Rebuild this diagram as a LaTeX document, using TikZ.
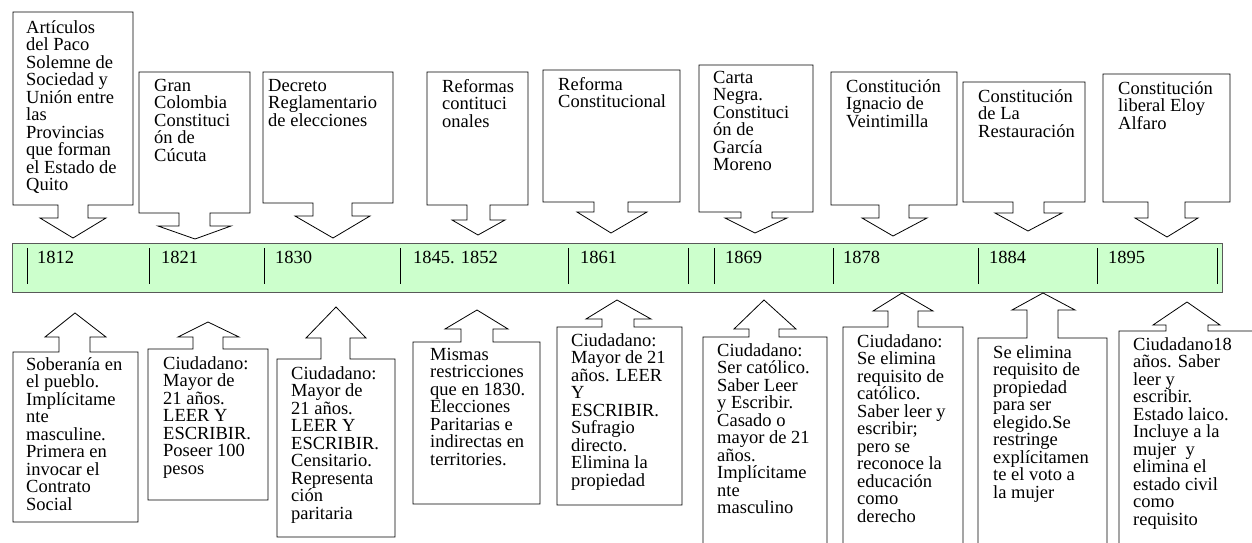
\documentclass[tikz,border=0pt]{standalone}
\usepackage{fontspec}
\setmainfont{Liberation Serif}
\usepackage{tikz}
\definecolor{barfill}{HTML}{CCFFCC}
\tikzset{minimum size=0pt, font=\fontsize{18.5}{17.5}\selectfont}
\tikzstyle{frame} = [rectangle, inner sep=0pt, outer sep=0pt, anchor=north west]
\tikzstyle{outline} = [draw, line width=0.8pt, fill=white, line join=miter]
\tikzstyle{txt} = [inner sep=0pt, anchor=north west, align=left]
\tikzstyle{year} = [inner sep=0pt, anchor=base west]
\tikzstyle{bar} = [draw=black!65, line width=1.3pt, fill=barfill, rectangle, inner sep=0pt, anchor=north west]
\tikzstyle{tick} = [line width=0.8pt]
\newcommand{\downcallout}[8]{%
	\draw [outline] (#1.south west) -- (#1.north west) -- (#1.north east) -- (#1.south east)
		-- (#1.south -| #3,0) -- (#3,#4) -- (#6,#4) -- (#7,#8) -- (#5,#4) -- (#2,#4)
		-- (#1.south -| #2,0) -- cycle;}
\newcommand{\upcallout}[8]{%
	\draw [outline] (#1.north west) -- (#1.north -| #2,0) -- (#2,#4) -- (#5,#4) -- (#7,#8)
		-- (#6,#4) -- (#3,#4) -- (#1.north -| #3,0) -- (#1.north east) -- (#1.south east)
		-- (#1.south west) -- cycle;}

\begin{document}
\begin{tikzpicture}[x=1pt, y=-1pt]
		\useasboundingbox (0,0) rectangle (1252,543);
		\clip (0,0) rectangle (1252,543);

		\node [bar, minimum width=1210, minimum height=49] (timeline) at (12,243) {};
		\draw [tick] (27,248) -- (27,284) (149,248) -- (149,284) (264,248) -- (264,284)
			(400,248) -- (400,284) (568,248) -- (568,284) (688,248) -- (688,284)
			(714,248) -- (714,284) (833,248) -- (833,284) (978,248) -- (978,284)
			(1097,248) -- (1097,284) (1217,248) -- (1217,284);
		\node [year] (y1812) at (37,263) {1812};
		\node [year] (y1821) at (161,263) {1821};
		\node [year] (y1830) at (275,263) {1830};
		\node [year] (y1845) at (413,263) {1845. 1852};
		\node [year] (y1861) at (580,263) {1861};
		\node [year] (y1869) at (725,263) {1869};
		\node [year] (y1878) at (843,263) {1878};
		\node [year] (y1884) at (989,263) {1884};
		\node [year] (y1895) at (1108,263) {1895};

		\node [frame, minimum width=120, minimum height=193] (ev1812) at (13,12) {};
		\downcallout{ev1812}{58}{88}{218}{40}{106}{73}{238}
		\node [txt] (evt1812) at (26,20) {Artículos\\del Paco\\Solemne de\\Sociedad y\\Unión entre\\las\\Provincias\\que forman\\el Estado de\\Quito};

		\node [frame, minimum width=111, minimum height=141] (ev1821) at (139,72) {};
		\downcallout{ev1821}{179}{210}{226}{158}{231}{195}{239}
		\node [txt] (evt1821) at (154,79) {Gran\\Colombia\\Constituci\\ón de\\Cúcuta};

		\node [frame, minimum width=130, minimum height=131] (ev1830) at (263,72) {};
		\downcallout{ev1830}{313}{352}{216}{295}{370}{333}{238}
		\node [txt] (evt1830) at (268,79) {Decreto\\Reglamentario\\de elecciones};

		\node [frame, minimum width=101, minimum height=133] (ev1845) at (427,72) {};
		\downcallout{ev1845}{467}{490}{220}{452}{505}{478}{235}
		\node [txt] (evt1845) at (442,79) {Reformas\\contituci\\onales};

		\node [frame, minimum width=137, minimum height=132] (ev1861) at (543,70) {};
		\downcallout{ev1861}{594}{628}{212}{577}{647}{611}{233}
		\node [txt] (evt1861) at (558,77) {Reforma\\Constitucional};

		\node [frame, minimum width=114, minimum height=147] (ev1869) at (699,65) {};
		\downcallout{ev1869}{741}{772}{218}{725}{787}{755}{233}
		\node [txt] (evt1869) at (713,71) {Carta\\Negra.\\Constituci\\ón de\\García\\Moreno};

		\node [frame, minimum width=126, minimum height=133] (ev1878) at (831,72) {};
		\downcallout{ev1878}{879}{909}{218}{862}{927}{893}{236}
		\node [txt] (evt1878) at (846,79) {Constitución\\Ignacio de\\Veintimilla};

		\node [frame, minimum width=122, minimum height=120] (ev1884) at (963,82) {};
		\downcallout{ev1884}{1013}{1044}{213}{995}{1062}{1028}{231}
		\node [txt] (evt1884) at (978,89) {Constitución\\de La\\Restauración};

		\node [frame, minimum width=127, minimum height=128] (ev1895) at (1103,74) {};
		\downcallout{ev1895}{1148}{1185}{218}{1135}{1198}{1167}{237}
		\node [txt] (evt1895) at (1118,81) {Constitución\\liberal Eloy\\Alfaro};

		\node [frame, minimum width=125, minimum height=170] (ci1812) at (13,352) {};
		\upcallout{ci1812}{59}{90}{337}{45}{106}{75}{313}
		\node [txt] (cit1812) at (26,357) {Soberanía en\\el pueblo.\\Implícitame\\nte\\masculine.\\Primera en\\invocar el\\Contrato\\Social};

		\node [frame, minimum width=120, minimum height=151] (ci1821) at (148,349) {};
		\upcallout{ci1821}{193}{223}{337}{178}{239}{208}{322}
		\node [txt] (cit1821) at (163,356) {Ciudadano:\\Mayor de\\21 años.\\LEER Y\\ESCRIBIR.\\Poseer 100\\pesos};

		\node [frame, minimum width=118, minimum height=178] (ci1830) at (277,359) {};
		\upcallout{ci1830}{321}{350}{338}{306}{366}{336}{307}
		\node [txt] (cit1830) at (291,366) {Ciudadano:\\Mayor de\\21 años.\\LEER Y\\ESCRIBIR.\\Censitario.\\Representa\\ción\\paritaria};

		\node [frame, minimum width=127, minimum height=162] (ci1845) at (413,342) {};
		\upcallout{ci1845}{461}{493}{329}{445}{508}{477}{310}
		\node [txt] (cit1845) at (430,348) {Mismas\\restricciones\\que en 1830.\\Elecciones\\Paritarias e\\indirectas en\\territories.};

		\node [frame, minimum width=125, minimum height=178] (ci1861) at (557,327) {};
		\upcallout{ci1861}{602}{634}{319}{586}{651}{617}{300}
		\node [txt] (cit1861) at (571,333) {Ciudadano:\\Mayor de 21\\años. LEER\\Y\\ESCRIBIR.\\Sufragio\\directo.\\Elimina la\\propiedad};

		\node [frame, minimum width=124, minimum height=230] (ci1869) at (703,337) {};
		\upcallout{ci1869}{749}{779}{329}{734}{796}{764}{300}
		\node [txt] (cit1869) at (717,343) {Ciudadano:\\Ser católico.\\Saber Leer\\y Escribir.\\Casado o\\mayor de 21\\años.\\Implícitame\\nte\\masculino};

		\node [frame, minimum width=120, minimum height=230] (ci1878) at (843,327) {};
		\upcallout{ci1878}{888}{918}{311}{873}{933}{902}{293}
		\node [txt] (cit1878) at (857,334) {Ciudadano:\\Se elimina\\requisito de\\católico.\\Saber leer y\\escribir;\\pero se\\reconoce la\\educación\\como\\derecho};

		\node [frame, minimum width=129, minimum height=220] (ci1884) at (978,338) {};
		\upcallout{ci1884}{1027}{1058}{310}{1012}{1075}{1043}{293}
		\node [txt] (cit1884) at (993,345) {Se elimina\\requisito de\\propiedad\\para ser\\elegido.Se\\restringe\\explícitamen\\te el voto a\\la mujer};

		\node [frame, minimum width=150, minimum height=230] (ci1895) at (1119,331) {};
		\upcallout{ci1895}{1166}{1208}{325}{1153}{1220}{1187}{302}
		\node [txt] (cit1895) at (1133,337) {Ciudadano18\\años. Saber\\leer y\\escribir.\\Estado laico.\\Incluye a la\\mujer~ y\\elimina el\\estado civil\\como\\requisito};
	\end{tikzpicture}
\end{document}
